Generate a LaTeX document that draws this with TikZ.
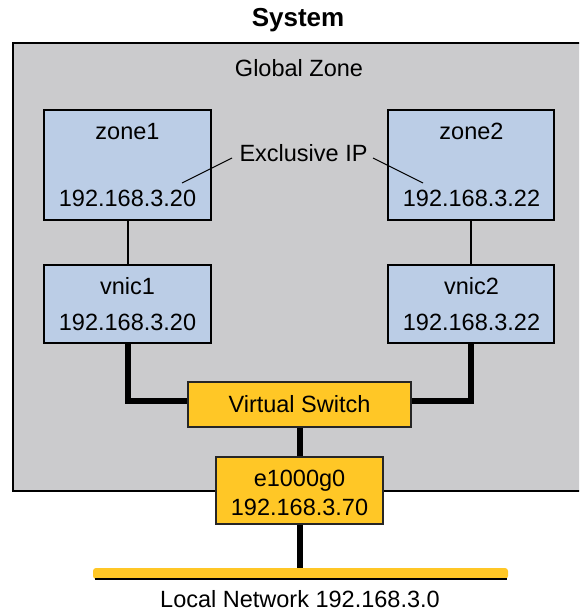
\documentclass[tikz,border=0pt]{standalone}
\usepackage{fontspec}
\setmainfont{Liberation Sans}
\definecolor{gz}{RGB}{203,203,205}
\definecolor{bl}{RGB}{187,205,230}
\definecolor{yl}{RGB}{255,199,38}
\begin{document}
\begin{tikzpicture}[x=1pt,y=-1pt,
  box/.style={draw=black,line width=2.4pt,fill=bl,inner sep=0pt,minimum width=167pt},
  ybox/.style={draw=black!85,line width=1.8pt,fill=yl,inner sep=0pt},
  txt/.style={anchor=base,inner sep=0pt,font=\fontsize{23.5}{28}\selectfont},
  thinline/.style={line width=2pt},
  thickline/.style={line width=6pt},
  lead/.style={line width=1.1pt}]
\useasboundingbox (0,0) rectangle (579,612);
\clip (0,0) rectangle (579,612);
% title
\node[txt,font=\fontsize{26}{30}\selectfont\bfseries] (sys) at (298,27) {System};
% global zone
\node[draw=black,line width=2.2pt,fill=gz,inner sep=0pt,anchor=north west,
      minimum width=580pt,minimum height=448pt] (gzone) at (12,42) {};
\node[txt] (gzt) at (299,77) {Global Zone};
% zones
\node[box,minimum height=110pt] (zone1) at (127.5,165) {};
\node[box,minimum width=166pt,minimum height=110pt] (zone2) at (471,165) {};
\node[txt] (z1a) at (127.5,140) {zone1};
\node[txt] (z1b) at (127.5,207) {192.168.3.20};
\node[txt] (z2a) at (471.5,140) {zone2};
\node[txt] (z2b) at (471.5,207) {192.168.3.22};
% exclusive IP
\node[txt] (excl) at (303.5,162) {Exclusive IP};
\coordinate (la) at (232,158);
\coordinate (lb) at (182,183);
\coordinate (ra) at (373,158);
\coordinate (rb) at (423,183);
\draw[lead] (la) -- (lb);
\draw[lead] (ra) -- (rb);
% vnics
\node[box,minimum height=78pt] (vnic1) at (127.5,304) {};
\node[box,minimum width=166pt,minimum height=78pt] (vnic2) at (471,304) {};
\node[txt] (v1a) at (127.5,294) {vnic1};
\node[txt] (v1b) at (127.5,330) {192.168.3.20};
\node[txt] (v2a) at (471.5,294) {vnic2};
\node[txt] (v2b) at (471.5,330) {192.168.3.22};
\draw[thinline] (zone1.south) -- (vnic1.north);
\draw[thinline] (zone2.south) -- (vnic2.north);
% switch
\node[ybox,minimum width=223pt,minimum height=45pt] (sw) at (299.5,404.5) {};
\node[txt] (swt) at (299.5,412) {Virtual Switch};
\draw[thickline] (vnic1.south) |- ([yshift=3.5pt]sw.west);
\draw[thickline] (vnic2.south) |- ([yshift=3.5pt]sw.east);
% physical NIC
\node[ybox,minimum width=167pt,minimum height=67pt] (eth) at (299.5,490.5) {};
\node[txt] (etha) at (299.5,486) {e1000g0};
\node[txt] (ethb) at (299.5,515) {192.168.3.70};
\draw[thickline] (sw.south) -- (eth.north);
% network
\node[fill=yl,inner sep=0pt,minimum width=415pt,minimum height=11pt,rounded corners=3pt] (net) at (300.5,573.5) {};
\draw[line width=1.6pt] ([xshift=2pt]net.south west) -- ([xshift=-1pt]net.south east);
\draw[thickline] (eth.south) -- (eth.south |- net.north);
\node[txt] (nett) at (300,607) {Local Network 192.168.3.0};
\end{tikzpicture}
\end{document}
